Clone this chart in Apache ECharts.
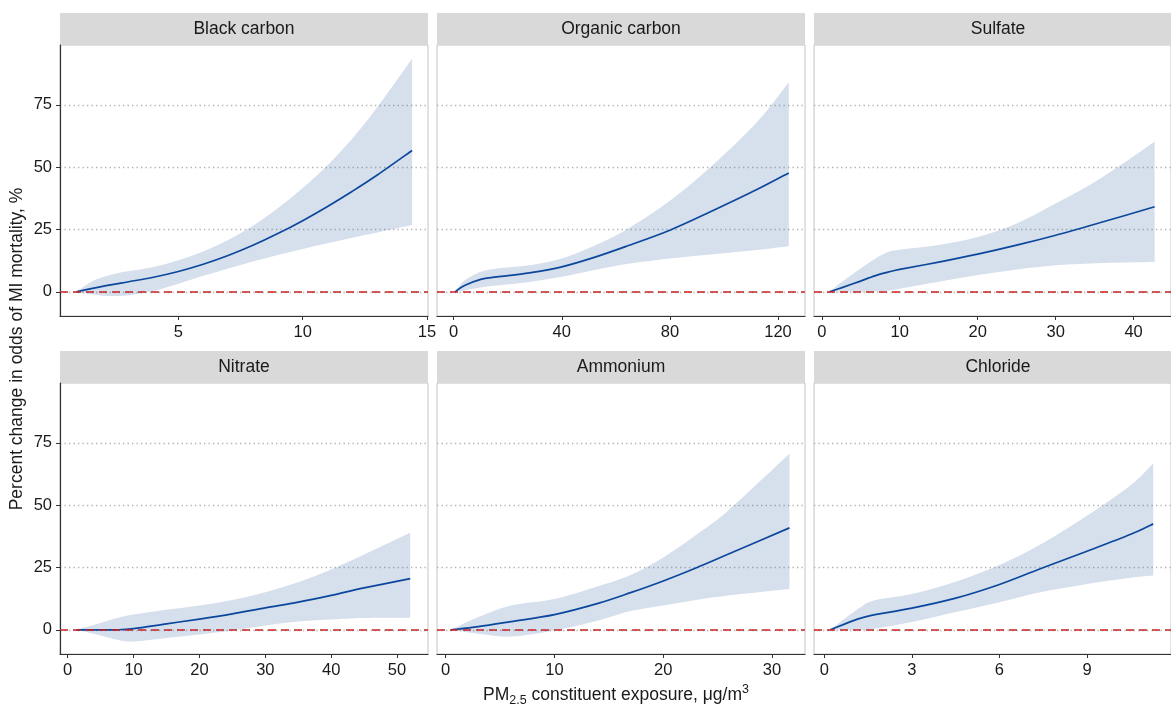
<!DOCTYPE html>
<html>
<head>
<meta charset="UTF-8">
<title>PM2.5 constituents</title>
<script src="https://cdn.jsdelivr.net/npm/echarts@6/dist/echarts.min.js"></script>
<style>
  html, body { margin: 0; padding: 0; background: #fff; }
  #main { width: 1171px; height: 705px; }
</style>
</head>
<body>
<div id="main"></div>
<script type="text/javascript">
// ---- data ----
var yTicks = [0, 25, 50, 75];

// Black carbon
var bcX   = [0.9, 1.5, 2, 2.5, 3, 4, 5, 6, 7, 8, 9, 10, 11, 12, 13, 14.4];
var bcFit = [0, 1.3, 2.3, 3.2, 4.05, 5.85, 8.15, 11.05, 14.55, 18.65, 23.35, 28.55, 34.25, 40.35, 46.85, 56.7];
var bcHi  = [0, 4.0, 6.0, 7.3, 8.3, 10.0, 12.7, 16.2, 20.8, 26.5, 33.5, 41.6, 50.8, 61.5, 74, 93.5];
var bcLo  = [0, -1.0, -1.6, -1.7, -1.4, 0.3, 3.2, 6.4, 9.4, 12.2, 14.8, 17.2, 19.5, 21.7, 23.8, 26.8];
var bcTicks = [5, 10, 15];

// Organic carbon
var ocX   = [0.5, 4, 10, 16, 28, 40, 52, 64, 80, 96, 112, 124];
var ocFit = [0, 2.5, 5, 6, 7.6, 10, 13.8, 18.3, 24.7, 32.6, 40.9, 47.7];
var ocHi  = [0, 4.5, 8, 9.4, 10.7, 13.4, 18.5, 25, 36.5, 51, 67.8, 84];
var ocLo  = [0, 0.5, 1.7, 2.5, 3.9, 6, 8.8, 11.2, 13.4, 15.1, 16.8, 18.3];
var ocTicks = [0, 40, 80, 120];

// Sulfate
var suX   = [1, 2.6, 4.7, 6.8, 8.5, 10, 15, 20, 25, 30, 36, 42.7];
var suFit = [0, 1.7, 4.0, 6.4, 7.9, 9.0, 11.9, 15.1, 18.7, 22.7, 28, 34.1];
var suHi  = [0, 4, 8.8, 13.2, 16, 16.9, 18.8, 22, 27.4, 35.4, 46, 60.2];
var suLo  = [0, 0, 0, 0.1, 0.4, 1.2, 4, 6.7, 9, 10.7, 11.6, 12];
var suTicks = [0, 10, 20, 30, 40];

// Nitrate
var niX   = [1.3, 5, 7.5, 10, 15, 20, 25, 30, 35, 40, 45, 52];
var niFit = [0, 0, 0, 0.5, 2.4, 4.3, 6.4, 8.8, 11.1, 13.8, 16.8, 20.5];
var niHi  = [0, 2.7, 4.7, 6.1, 8, 9.8, 12, 15.1, 19.1, 24.2, 30.2, 38.9];
var niLo  = [0, -2.3, -4, -4.7, -3.3, -1.9, -0.3, 1.7, 3.3, 4.1, 4.7, 4.8];
var niTicks = [0, 10, 20, 30, 40, 50];

// Ammonium
var amX   = [0.5, 3, 6, 10, 14, 17, 20, 23, 26, 31.6];
var amFit = [0, 1.3, 3.3, 6.1, 10.6, 14.9, 19.6, 24.8, 30.4, 40.9];
var amHi  = [0, 5.1, 9.8, 12.4, 17.5, 22.0, 29.0, 38.0, 48.0, 70.6];
var amLo  = [0, -1.6, -2.7, -0.3, 3.7, 7.5, 9.8, 12, 13.8, 16.4];
var amTicks = [0, 10, 20, 30];

// Chloride
var clX   = [0.2, 1.16, 1.7, 3, 4.5, 6, 7.4, 9, 10.5, 11.27];
var clFit = [0, 4.4, 6.0, 8.7, 12.7, 18.2, 24.5, 31.5, 38.3, 42.5];
var clHi  = [0, 8.4, 11.8, 14.4, 19.3, 26.0, 34.2, 45.8, 58.0, 66.8];
var clLo  = [0, 0, 0.4, 3.1, 7.1, 11.1, 15.1, 18.4, 20.9, 21.8];
var clTicks = [0, 3, 6, 9];

var panels = [
  { name: 'Black carbon',   x: bcX, fit: bcFit, hi: bcHi, lo: bcLo, ticks: bcTicks, min: 0.24, max: 15.04 },
  { name: 'Organic carbon', x: ocX, fit: ocFit, hi: ocHi, lo: ocLo, ticks: ocTicks, min: -6.18, max: 130 },
  { name: 'Sulfate',        x: suX, fit: suFit, hi: suHi, lo: suLo, ticks: suTicks, min: -1.0, max: 44.8 },
  { name: 'Nitrate',        x: niX, fit: niFit, hi: niHi, lo: niLo, ticks: niTicks, min: -1.17, max: 54.7 },
  { name: 'Ammonium',       x: amX, fit: amFit, hi: amHi, lo: amLo, ticks: amTicks, min: -0.8, max: 33.03 },
  { name: 'Chloride',       x: clX, fit: clFit, hi: clHi, lo: clLo, ticks: clTicks, min: -0.356, max: 11.88 }
];

// ---- layout ----
var colLeft = [60, 437, 814];
var rowTop = [45, 383];
var W = 368, H = 271, stripH = 32;
var font = "'Liberation Sans', Arial, sans-serif";
var txt = '#1a1a1a';

// smooth curve (catmull-rom -> bezier) through pixel points, no moveTo
function curve(pts) {
  var d = '';
  for (var i = 0; i < pts.length - 1; i++) {
    var p0 = pts[i - 1] || pts[i], p1 = pts[i], p2 = pts[i + 1], p3 = pts[i + 2] || p2;
    var c1 = [p1[0] + (p2[0] - p0[0]) / 6, p1[1] + (p2[1] - p0[1]) / 6];
    var c2 = [p2[0] - (p3[0] - p1[0]) / 6, p2[1] - (p3[1] - p1[1]) / 6];
    d += ' C' + c1[0] + ',' + c1[1] + ' ' + c2[0] + ',' + c2[1] + ' ' + p2[0] + ',' + p2[1];
  }
  return d;
}

function bandRenderer(p) {
  return function (params, api) {
    if (params.dataIndex !== 0) return;
    var up = p.x.map(function (x, k) { return api.coord([x, p.hi[k]]); });
    var dn = p.x.map(function (x, k) { return api.coord([x, p.lo[k]]); }).reverse();
    var d = 'M' + up[0][0] + ',' + up[0][1] + curve(up) +
            ' L' + dn[0][0] + ',' + dn[0][1] + curve(dn) + ' Z';
    return { type: 'path', shape: { pathData: d }, style: { fill: 'rgba(70,110,170,0.22)' } };
  };
}

function fitRenderer(p) {
  return function (params, api) {
    if (params.dataIndex !== 0) return;
    var pts = p.x.map(function (x, k) { return api.coord([x, p.fit[k]]); });
    var d = 'M' + pts[0][0] + ',' + pts[0][1] + curve(pts);
    return { type: 'path', shape: { pathData: d },
             style: { fill: null, stroke: '#0b479c', lineWidth: 1.7 } };
  };
}

var grids = [], xAxes = [], yAxes = [], series = [], graphics = [];

panels.forEach(function (p, i) {
  var col = i % 3, row = Math.floor(i / 3);
  var left = colLeft[col], top = rowTop[row];

  grids.push({
    left: left, top: top, width: W, height: H,
    show: true, borderColor: '#c4c4c4', borderWidth: 1, backgroundColor: '#fff'
  });

  xAxes.push({
    gridIndex: i, type: 'value', min: p.min, max: p.max,
    axisLine: { show: true, onZero: false, lineStyle: { color: '#333', width: 1.2 } },
    axisTick: { show: true, length: 4, customValues: p.ticks, lineStyle: { color: '#333' } },
    axisLabel: { customValues: p.ticks, fontSize: 16.5, color: txt, fontFamily: font, margin: 8 },
    splitLine: { show: false }
  });

  yAxes.push({
    gridIndex: i, type: 'value', min: -9.7, max: 99,
    axisLine: { show: col === 0, onZero: false, lineStyle: { color: '#333', width: 1.2 } },
    axisTick: { show: col === 0, length: 4, customValues: yTicks, lineStyle: { color: '#333' } },
    axisLabel: { show: col === 0, customValues: yTicks, fontSize: 16.5, color: txt, fontFamily: font, margin: 8 },
    splitLine: { show: true, lineStyle: { color: '#b0b0b0', width: 1.3, type: [1.3, 3.2] } }
  });

  series.push({
    type: 'custom', coordinateSystem: 'cartesian2d', xAxisIndex: i, yAxisIndex: i,
    data: p.x.map(function (x, k) { return [x, p.lo[k], p.hi[k]]; }),
    encode: { x: 0, y: [1, 2] },
    renderItem: bandRenderer(p), silent: true, z: 1
  });
  series.push({
    type: 'custom', coordinateSystem: 'cartesian2d', xAxisIndex: i, yAxisIndex: i,
    data: p.x.map(function (x, k) { return [x, p.fit[k]]; }),
    encode: { x: 0, y: 1 },
    renderItem: fitRenderer(p), silent: true, z: 3
  });
  series.push({
    type: 'line', xAxisIndex: i, yAxisIndex: i, z: 4, data: [], silent: true,
    markLine: {
      silent: true, symbol: 'none', label: { show: false },
      lineStyle: { color: '#c62326', type: [8, 5], width: 1.6 },
      data: [{ yAxis: 0 }]
    }
  });

  var sTop = top - stripH;
  graphics.push({
    type: 'rect', shape: { x: left, y: sTop, width: W, height: stripH },
    style: { fill: '#d9d9d9' }, silent: true
  });
  graphics.push({
    type: 'text', x: left + W / 2, y: sTop + stripH / 2 + 0.5,
    style: { text: p.name, align: 'center', verticalAlign: 'middle', fill: txt, font: '17.5px ' + font },
    silent: true
  });
});

graphics.push({
  type: 'text', x: 17, y: 349, rotation: Math.PI / 2,
  style: { text: 'Percent change in odds of MI mortality, %', align: 'center', verticalAlign: 'middle',
           fill: txt, font: '17.5px ' + font },
  silent: true
});
graphics.push({
  type: 'text', x: 616, y: 695,
  style: {
    text: '{n|PM}{sub|2.5}{n| constituent exposure, μg/m}{sup|3}',
    align: 'center', verticalAlign: 'middle', fill: txt,
    rich: {
      n:   { fontSize: 17.5, fontFamily: font, color: txt, lineHeight: 24 },
      sub: { fontSize: 12.5, fontFamily: font, color: txt, lineHeight: 13, verticalAlign: 'bottom' },
      sup: { fontSize: 12.5, fontFamily: font, color: txt, lineHeight: 13, verticalAlign: 'top' }
    }
  },
  silent: true
});

var myChart = echarts.init(document.getElementById('main'));
var option = {
  animation: false,
  backgroundColor: '#fff',
  grid: grids,
  xAxis: xAxes,
  yAxis: yAxes,
  series: series,
  graphic: graphics
};
myChart.setOption(option);
</script>
</body>
</html>
